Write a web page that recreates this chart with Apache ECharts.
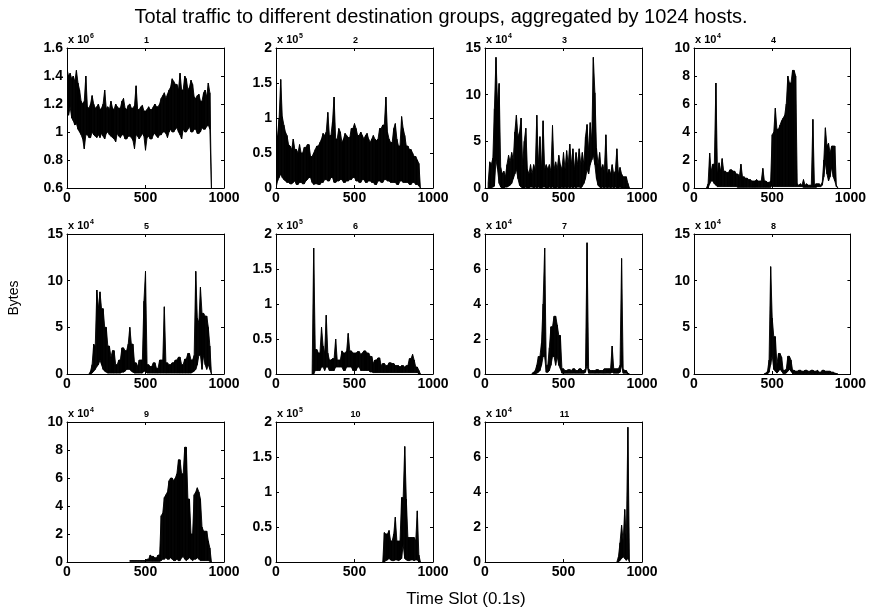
<!DOCTYPE html>
<html><head><meta charset="utf-8">
<script src="https://cdn.jsdelivr.net/npm/echarts@6/dist/echarts.min.js"></script>
<style>html,body{margin:0;padding:0;background:#fff}#c{width:869px;height:610px}</style>
</head><body><div id="c"></div>
<script>
// ---------- data ----------
const chartTitle = 'Total traffic to different destination groups, aggregated by 1024 hosts.';
const yAxisTitle = 'Bytes';
const xAxisTitle = 'Time Slot (0.1s)';
const panelNames = ['1','2','3','4','5','6','7','8','9','10','11'];
const exponents = [6,5,4,4,4,5,4,4,4,5,4];
const yMins = [0.6,0,0,0,0,0,0,0,0,0,0];
const yMaxs = [1.6,2,15,10,15,2,8,15,10,2,8];
const yIntervals = [0.2,0.5,5,2,5,0.5,2,5,2,0.5,2];
const xMin = 0, xMax = 1000, xInterval = 500;
const slotStep = 10;
const startSlots = [0,0,20,80,140,230,300,450,400,680,840];

// upper and lower envelopes of the traffic in each 10-slot step (in units of 10^exponent bytes)
const high1 = [1.45,1.40,1.42,1.38,1.40,1.36,1.44,1.35,1.30,1.22,
 1.20,1.22,1.40,1.18,1.17,1.20,1.26,1.20,1.17,1.18,
 1.20,1.16,1.17,1.20,1.30,1.17,1.18,1.16,1.22,1.17,
 1.16,1.20,1.18,1.17,1.17,1.22,1.24,1.17,1.16,1.19,
 1.20,1.17,1.17,1.19,1.33,1.16,1.16,1.18,1.19,1.15,
 1.15,1.16,1.18,1.16,1.16,1.18,1.20,1.18,1.18,1.20,
 1.24,1.26,1.28,1.24,1.27,1.30,1.32,1.38,1.36,1.34,
 1.34,1.30,1.42,1.30,1.30,1.40,1.38,1.30,1.32,1.37,
 1.34,1.25,1.24,1.26,1.27,1.22,1.22,1.28,1.30,1.25,
 1.35,1.28,0.60];
const low1 = [1.15,1.12,1.18,1.10,1.08,1.05,1.06,1.02,1.00,0.98,
 0.95,0.88,0.98,0.98,0.96,0.96,1.00,0.98,0.97,0.96,
 0.98,0.96,0.99,0.97,0.95,0.99,1.00,0.98,0.97,0.96,
 0.95,0.93,0.99,0.97,0.96,0.98,0.98,0.95,0.95,0.97,
 0.97,0.96,0.94,0.88,0.98,0.97,0.95,0.97,0.99,0.97,
 0.87,0.96,0.97,0.95,0.95,0.98,0.99,0.97,0.96,0.98,
 0.98,1.00,1.00,0.99,0.96,1.00,1.02,1.00,1.00,1.02,
 1.03,1.00,0.98,0.95,1.02,1.00,1.00,1.02,1.04,1.00,
 1.00,1.02,1.02,0.99,0.99,1.00,1.03,1.02,1.02,1.04,
 1.05,1.02,0.60];
const high2 = [0.60,0.75,1.00,1.55,1.02,0.90,0.80,0.75,0.62,0.60,
 0.55,0.70,0.55,0.55,0.50,0.62,0.50,0.50,0.58,0.58,
 0.62,0.62,0.45,0.45,0.50,0.55,0.60,0.60,0.65,0.70,
 0.78,0.75,0.80,1.08,0.75,0.75,0.95,1.30,0.70,0.70,
 0.85,0.80,0.65,0.70,0.78,0.75,0.72,0.72,0.85,0.85,
 0.92,0.85,0.75,0.75,0.80,0.75,0.70,0.75,0.78,0.70,
 0.65,0.70,0.75,0.70,0.68,0.70,0.85,0.85,0.90,0.90,
 1.30,0.80,0.70,0.65,0.65,0.85,0.92,0.70,0.60,0.60,
 1.02,0.85,0.75,0.60,0.60,0.55,0.55,0.50,0.45,0.45,
 0.40,0.35,0.00];
const low2 = [0.00,0.10,0.15,0.20,0.15,0.12,0.10,0.08,0.08,0.06,
 0.06,0.08,0.10,0.05,0.05,0.08,0.08,0.06,0.06,0.10,
 0.12,0.15,0.15,0.08,0.05,0.06,0.06,0.05,0.05,0.08,
 0.08,0.12,0.12,0.10,0.10,0.15,0.15,0.08,0.08,0.10,
 0.10,0.12,0.12,0.08,0.08,0.10,0.10,0.12,0.12,0.15,
 0.15,0.10,0.10,0.08,0.08,0.12,0.12,0.08,0.08,0.10,
 0.10,0.08,0.08,0.05,0.05,0.10,0.10,0.08,0.08,0.12,
 0.12,0.10,0.10,0.08,0.08,0.08,0.08,0.05,0.05,0.10,
 0.10,0.08,0.08,0.08,0.08,0.05,0.05,0.08,0.08,0.05,
 0.05,0.03,0.00];
const high3 = [0.5,2.8,2.5,3.2,8.5,14.0,9.0,11.2,
 2.2,1.5,1.8,1.2,2.5,3.5,2.8,3.8,3.0,6.0,
 7.8,5.5,6.0,7.5,2.5,5.0,6.4,2.0,1.5,2.5,
 1.5,2.5,2.0,7.8,2.5,5.5,2.0,7.2,2.0,2.5,
 2.0,2.5,1.8,6.7,2.0,2.8,2.0,3.5,2.5,2.0,
 3.8,2.0,4.0,2.5,4.7,2.5,4.2,2.0,3.8,2.5,
 4.2,2.5,3.8,2.5,5.5,6.8,4.0,7.0,5.0,14.0,
 10.2,4.3,2.5,3.8,2.0,2.5,1.8,5.7,1.5,2.0,
 1.5,2.5,1.5,1.8,4.2,1.5,2.2,1.5,1.2,1.2,
 1.2,0.5,0.0];
const low3 = [0.0,0.0,0.0,0.1,0.2,3.0,2.0,0.5,
 0.1,0.0,0.0,0.1,0.1,0.2,0.3,0.5,1.0,1.5,
 2.0,1.0,0.3,0.1,0.0,0.0,0.1,0.0,0.0,0.1,
 0.1,0.0,0.1,0.0,0.1,0.0,0.0,0.1,0.1,0.0,
 0.0,0.1,0.0,0.1,0.0,0.0,0.1,0.0,0.0,0.1,
 0.0,0.1,0.0,0.1,0.0,0.1,0.0,0.1,0.0,0.1,
 0.1,0.0,0.2,0.5,1.0,2.0,1.5,2.5,3.0,3.5,
 2.5,1.0,0.3,0.1,0.0,0.1,0.0,0.1,0.0,0.1,
 0.0,0.1,0.0,0.1,0.0,0.0,0.1,0.0,0.0,0.0,
 0.0,0.0,0.0];
const high4 = [0.0,0.3,
 2.5,1.2,1.7,1.7,7.5,1.0,1.8,1.2,2.1,1.2,
 1.2,1.1,1.1,1.3,1.3,1.2,1.2,1.0,1.0,0.8,
 1.7,0.8,0.8,0.7,0.7,0.6,0.6,0.5,0.5,0.5,
 0.6,0.5,0.5,0.5,1.4,0.5,0.5,0.4,0.4,0.5,
 3.8,4.0,5.7,4.2,4.2,4.5,4.8,5.0,5.2,6.0,
 8.0,7.5,7.5,8.4,8.4,8.0,0.3,0.2,0.3,0.2,
 0.6,0.2,0.3,0.2,0.2,0.2,4.9,0.2,0.3,0.3,
 0.3,0.2,0.4,2.0,4.3,3.0,3.2,2.5,3.0,3.0,
 3.0,0.2,0.0];
const low4 = [0.0,0.0,
 0.3,0.5,0.5,0.3,0.2,0.1,0.1,0.1,0.1,0.1,
 0.1,0.1,0.1,0.1,0.1,0.1,0.1,0.1,0.05,0.05,
 0.05,0.05,0.05,0.05,0.05,0.05,0.05,0.05,0.05,0.05,
 0.05,0.05,0.05,0.05,0.05,0.05,0.05,0.05,0.05,0.05,
 0.2,0.1,0.1,0.1,0.1,0.1,0.1,0.1,0.1,0.1,
 0.1,0.1,0.1,0.1,0.1,0.1,0.1,0.1,0.1,0.1,
 0.05,0.05,0.05,0.05,0.05,0.05,0.05,0.05,0.05,0.1,
 0.1,0.1,0.2,0.8,1.8,1.0,0.5,0.8,1.5,0.8,
 0.5,0.1,0.0];
const high5 = [0.0,0.3,1.0,3.2,3.0,9.0,
 7.0,8.8,7.0,7.0,5.0,5.0,3.0,3.0,1.8,2.5,
 2.5,1.0,1.0,1.5,1.5,2.8,2.8,2.5,2.5,3.2,
 5.0,3.2,3.2,1.2,1.2,0.8,1.5,1.5,1.5,7.8,
 11.0,1.0,1.0,0.8,0.8,1.2,1.2,0.6,0.6,1.5,
 1.5,1.5,7.2,1.2,1.2,1.0,1.0,1.2,1.2,1.5,
 1.5,1.8,1.8,1.0,1.0,1.6,1.6,2.2,2.2,1.5,
 1.5,2.0,11.0,6.0,5.5,9.3,6.5,6.5,6.2,6.2,
 5.0,3.0,0.0];
const low5 = [0.0,0.0,0.1,0.3,0.5,0.8,
 1.0,1.5,1.0,0.5,0.3,0.2,0.1,0.1,0.1,0.1,
 0.1,0.1,0.1,0.1,0.1,0.2,0.2,0.3,0.5,0.5,
 0.5,0.3,0.2,0.1,0.1,0.1,0.1,0.1,0.1,0.3,
 0.3,0.1,0.1,0.1,0.1,0.1,0.1,0.1,0.1,0.1,
 0.1,0.1,0.1,0.1,0.1,0.1,0.1,0.1,0.1,0.1,
 0.1,0.1,0.1,0.1,0.1,0.1,0.1,0.1,0.1,0.1,
 0.2,0.3,0.5,1.0,2.0,2.0,0.5,2.0,1.0,0.5,
 1.0,0.5,0.0];
const high6 = [0.00,1.80,0.35,0.35,0.30,0.30,0.67,
 0.40,0.30,0.84,0.30,0.20,0.20,0.22,0.22,0.50,0.20,
 0.20,0.20,0.33,0.30,0.30,0.33,0.58,0.33,0.33,0.30,
 0.30,0.30,0.32,0.32,0.28,0.30,0.33,0.33,0.30,0.30,
 0.25,0.25,0.15,0.20,0.20,0.23,0.23,0.12,0.15,0.15,
 0.12,0.12,0.16,0.16,0.15,0.15,0.12,0.12,0.12,0.10,
 0.12,0.12,0.10,0.12,0.12,0.22,0.22,0.28,0.20,0.10,
 0.10,0.05,0.00];
const low6 = [0.00,0.00,0.05,0.05,0.05,0.05,0.10,
 0.10,0.05,0.10,0.10,0.05,0.05,0.05,0.05,0.10,0.10,
 0.10,0.10,0.10,0.05,0.05,0.10,0.10,0.10,0.10,0.05,
 0.05,0.05,0.10,0.10,0.05,0.05,0.05,0.05,0.05,0.05,
 0.03,0.03,0.02,0.02,0.02,0.02,0.02,0.02,0.02,0.02,
 0.02,0.02,0.02,0.02,0.02,0.02,0.02,0.02,0.02,0.02,
 0.02,0.02,0.02,0.02,0.02,0.02,0.02,0.02,0.02,0.02,
 0.02,0.00,0.00];
const high7 = [0.05,0.10,0.20,0.50,1.00,1.00,1.80,4.00,7.20,0.50,
 0.50,1.50,2.70,2.70,3.30,3.30,2.80,2.20,2.20,0.30,
 0.30,0.20,0.20,0.25,0.25,0.20,0.30,0.30,0.20,0.20,
 0.30,0.30,0.20,0.20,0.30,7.50,0.30,0.20,0.20,0.20,
 0.20,0.25,0.25,0.20,0.20,0.20,0.30,0.30,0.30,0.30,
 0.30,1.60,0.30,0.30,0.30,0.30,0.50,6.60,0.30,0.20,
 0.20,0.05,0.00];
const low7 = [0.00,0.00,0.00,0.05,0.10,0.20,0.50,1.00,1.00,0.10,
 0.10,0.20,0.50,1.00,1.00,0.50,1.00,0.50,0.30,0.05,
 0.05,0.05,0.05,0.05,0.05,0.05,0.05,0.05,0.05,0.05,
 0.05,0.05,0.05,0.05,0.10,0.50,0.05,0.05,0.05,0.05,
 0.05,0.05,0.05,0.05,0.05,0.05,0.05,0.05,0.05,0.05,
 0.05,0.10,0.05,0.05,0.05,0.05,0.10,0.50,0.05,0.05,
 0.05,0.00,0.00];
const high8 = [0.05,0.10,0.30,1.50,11.5,
 6.0,4.0,4.0,1.0,2.2,
 2.2,1.8,0.4,0.4,0.5,
 1.9,1.9,1.5,0.4,0.4,
 0.3,0.3,0.4,0.4,0.3,
 0.3,0.4,0.4,0.3,0.3,
 0.4,0.4,0.3,0.3,0.4,
 0.2,0.2,0.4,0.4,0.3,
 0.3,0.3,0.3,0.2,0.2,
 0.1,0.05,0.0];
const low8 = [0.00,0.00,0.00,0.20,1.00,
 2.00,0.50,0.30,0.10,0.30,
 0.50,0.30,0.05,0.05,0.10,
 0.30,0.50,0.30,0.05,0.05,
 0.02,0.02,0.02,0.02,0.02,
 0.02,0.02,0.02,0.02,0.02,
 0.02,0.02,0.02,0.02,0.02,
 0.02,0.02,0.02,0.02,0.02,
 0.02,0.02,0.02,0.02,0.02,
 0.02,0.00,0.00];
const high9 = [0.1,0.1,0.1,0.1,0.1,0.1,0.1,0.1,0.1,0.1,
 0.1,0.2,0.2,0.5,0.4,0.4,0.3,0.3,0.5,0.5,
 3.3,3.5,4.6,4.8,5.0,5.8,6.0,6.0,5.8,6.0,
 6.3,7.3,7.3,6.3,6.3,8.2,8.2,4.5,4.5,2.0,
 2.0,4.8,5.0,5.3,5.0,4.5,2.5,2.2,2.2,2.2,
 1.5,1.0,0.0];
const low9 = [0.05,0.05,0.05,0.05,0.05,0.05,0.05,0.05,0.05,0.05,
 0.05,0.05,0.05,0.05,0.05,0.05,0.05,0.05,0.05,0.05,
 0.10,0.20,0.20,0.30,0.20,0.20,0.30,0.20,0.10,0.10,
 0.20,0.10,0.10,0.30,0.40,0.20,0.10,0.20,0.30,0.20,
 0.10,0.20,0.20,0.30,0.20,0.10,0.10,0.10,0.10,0.10,
 0.10,0.05,0.00];
const high10 = [0.00,0.42,
 0.40,0.40,0.45,0.30,0.30,0.40,0.64,0.30,0.30,0.30,
 0.92,0.92,1.65,0.90,0.35,0.35,0.35,0.35,0.35,0.30,
 0.73,0.10,0.00];
const low10 = [0.00,0.00,
 0.02,0.03,0.05,0.03,0.02,0.02,0.03,0.03,0.02,0.03,
 0.05,0.25,0.05,0.03,0.02,0.02,0.03,0.03,0.02,0.03,
 0.03,0.00,0.00];
const high11 = [0.0,0.3,1.1,2.1,1.2,3.0,1.2,7.7,0.0];
const low11 = [0.0,0.0,0.1,0.2,0.3,0.2,0.1,0.2,0.0];

const allHigh = [high1,high2,high3,high4,high5,high6,high7,high8,high9,high10,high11];
const allLow = [low1,low2,low3,low4,low5,low6,low7,low8,low9,low10,low11];

// ---------- layout ----------
const colLeft = [67,276,485,694];
const rowTop = [48,234,422];
const gw = 157, gh = 140;
const FONT = '"Liberation Sans", Arial, Helvetica, sans-serif';

const grids = [], xAxes = [], yAxes = [], series = [], graphics = [];
const fmt = v => String(Number(v.toFixed(2)));
const tickStyle = {show:true, inside:true, length:3, lineStyle:{color:'#000', width:1}};
const lineStyle = {color:'#000', width:1};

function renderBand(params, api) {
  const x0 = api.value(0), lo0 = api.value(1), hi0 = api.value(2);
  const x1 = api.value(3), lo1 = api.value(4), hi1 = api.value(5);
  const pts = [api.coord([x0, lo0]), api.coord([x0, hi0]), api.coord([x1, hi1]), api.coord([x1, lo1])];
  return {type:'polygon', shape:{points:pts},
    style:{fill:'#000', stroke:'#000', lineWidth:0.9}, silent:true};
}

allHigh.forEach((hi, i) => {
  const lo = allLow[i];
  const col = i % 4, row = Math.floor(i / 4);
  const left = colLeft[col], top = rowTop[row];
  grids.push({left, top, width: gw, height: gh, containLabel:false});
  const xb = {gridIndex:i, type:'value', min:xMin, max:xMax, interval:xInterval, position:'bottom', z:5,
    axisLine:{show:true, onZero:false, lineStyle}, axisTick:tickStyle, splitLine:{show:false},
    axisLabel:{show:true, color:'#000', fontFamily:FONT, fontWeight:'bold', fontSize:14, margin:3, formatter: v => String(v)}};
  const xt = Object.assign({}, xb, {position:'top', axisLabel:{show:false}});
  const yl = {gridIndex:i, type:'value', min:yMins[i], max:yMaxs[i], interval:yIntervals[i], position:'left', z:5,
    axisLine:{show:true, onZero:false, lineStyle}, axisTick:tickStyle, splitLine:{show:false},
    axisLabel:{show:true, color:'#000', fontFamily:FONT, fontWeight:'bold', fontSize:14, margin:4, formatter: fmt}};
  const yr = Object.assign({}, yl, {position:'right', axisLabel:{show:false}});
  const xi = xAxes.length, yi = yAxes.length;
  xAxes.push(xb, xt); yAxes.push(yl, yr);
  const slot = k => startSlots[i] + k * slotStep;
  const segs = [];
  for (let k = 0; k < hi.length - 1; k++) {
    segs.push([slot(k), lo[k], hi[k], slot(k + 1), lo[k + 1], hi[k + 1]]);
  }
  series.push({type:'custom', xAxisIndex:xi, yAxisIndex:yi, renderItem:renderBand, clip:true, silent:true,
    animation:false, encode:{x:[0,3], y:[1,2,4,5]}, data:segs});
  graphics.push({type:'text', x:left + 1, y:top - 3,
    style:{text:'x 10', font:'bold 11px ' + FONT, fill:'#000', textAlign:'left', textVerticalAlign:'bottom'}});
  graphics.push({type:'text', x:left + 23, y:top - 8,
    style:{text:String(exponents[i]), font:'bold 7px ' + FONT, fill:'#000', textAlign:'left', textVerticalAlign:'bottom'}});
  graphics.push({type:'text', x:left + gw / 2 + 1, y:top - 3,
    style:{text:panelNames[i], font:'bold 9px ' + FONT, fill:'#000', textAlign:'center', textVerticalAlign:'bottom'}});
});

graphics.push({type:'text', x:14, y:298, rotation:Math.PI/2,
  style:{text:yAxisTitle, font:'14px ' + FONT, fill:'#000', textAlign:'center', textVerticalAlign:'middle'}});
graphics.push({type:'text', x:466, y:599,
  style:{text:xAxisTitle, font:'17px ' + FONT, fill:'#000', textAlign:'center', textVerticalAlign:'middle'}});

const chart = echarts.init(document.getElementById('c'), null, {renderer:'canvas'});
chart.setOption({
  backgroundColor:'#fff',
  animation:false,
  title:{text:chartTitle, left:436, textAlign:'center', top:2,
    textStyle:{fontFamily:FONT, fontSize:20, fontWeight:'normal', color:'#000'}},
  grid:grids, xAxis:xAxes, yAxis:yAxes, series, graphic:graphics
});
</script>
</body></html>
